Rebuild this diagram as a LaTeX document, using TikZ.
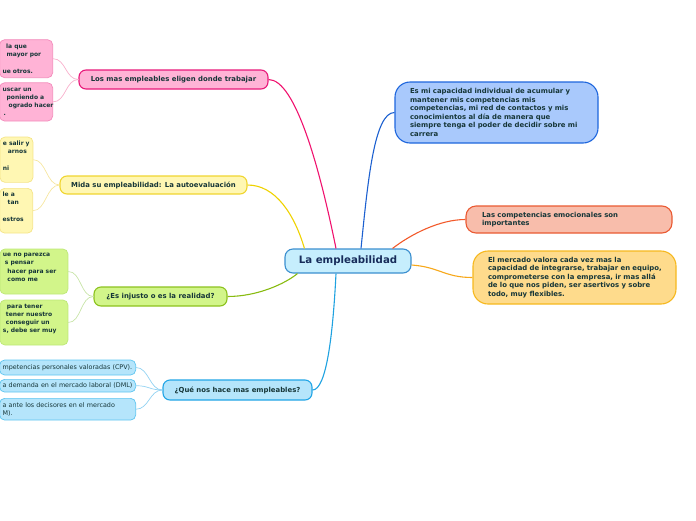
\documentclass[tikz,border=0pt]{standalone}
\usepackage{fontspec}
\setmainfont{DejaVu Sans}
\usetikzlibrary{calc}
\definecolor{txt}{HTML}{163638}
\definecolor{ctxt}{HTML}{172C5A}
\definecolor{pinkfill}{HTML}{FFB3D6}
\definecolor{pinkdraw}{HTML}{E8197A}
\definecolor{pinkline}{HTML}{F0126E}
\definecolor{pinkcdraw}{HTML}{F38CBC}
\definecolor{pinkcline}{HTML}{F8B0CC}
\definecolor{yelfill}{HTML}{FFF7B3}
\definecolor{yeldraw}{HTML}{F0D530}
\definecolor{yelline}{HTML}{EFD200}
\definecolor{yelcdraw}{HTML}{F5E488}
\definecolor{yelcline}{HTML}{F6E6A0}
\definecolor{grnfill}{HTML}{D2F58A}
\definecolor{grndraw}{HTML}{8CC21E}
\definecolor{grnline}{HTML}{88BB10}
\definecolor{grncdraw}{HTML}{BDE878}
\definecolor{grncline}{HTML}{C8E4A8}
\definecolor{cyafill}{HTML}{B5E5FB}
\definecolor{cyadraw}{HTML}{22A6E6}
\definecolor{cyaline}{HTML}{1FA2E0}
\definecolor{cyacdraw}{HTML}{5EC5F0}
\definecolor{cyacline}{HTML}{92D2F2}
\definecolor{cenfill}{HTML}{C6EEFD}
\definecolor{cendraw}{HTML}{3B8FCF}
\definecolor{bluefill}{HTML}{A9C9FC}
\definecolor{bluedraw}{HTML}{1E66DD}
\definecolor{blueline}{HTML}{1C60D0}
\definecolor{salfill}{HTML}{F8BDAB}
\definecolor{saldraw}{HTML}{EA5A33}
\definecolor{salline}{HTML}{F2592A}
\definecolor{orafill}{HTML}{FEDB8C}
\definecolor{oradraw}{HTML}{F6B81E}
\definecolor{oraline}{HTML}{F7A81A}
\newcommand\mytitlefont{\bfseries\fontsize{6.9}{8.6}\selectfont}
\newcommand\mychildfont{\bfseries\fontsize{6}{8.2}\selectfont}
\newcommand\myplainfont{\fontsize{6.4}{8.3}\selectfont}
\tikzset{
  topic/.style={draw, line width=1.1pt, rounded corners=7pt, inner sep=0pt,
    text=txt, font=\mytitlefont, align=center},
  bigbox/.style={draw, line width=1.1pt, inner xsep=15pt, inner ysep=0pt,
    text=txt, font=\mytitlefont, align=left},
  child/.style={draw, line width=0.7pt, rounded corners=5pt, inner xsep=3pt,
    inner ysep=0pt, anchor=east, text=txt, font=\mychildfont, align=left},
  conn/.style={line width=1.1pt},
  cconn/.style={line width=0.7pt},
}
\begin{document}
\begin{tikzpicture}[x=1pt,y=-1pt]
\useasboundingbox (0,0) rectangle (696,520);
\clip (0,0) rectangle (696,520);

% central
\node[topic, fill=cenfill, draw=cendraw, rounded corners=8pt, text=ctxt,
  font=\bfseries\fontsize{10.2}{12}\selectfont,
  minimum width=126pt, minimum height=24pt] (c) at (348,261) {La empleabilidad};

% right
\node[bigbox, fill=bluefill, draw=bluedraw, rounded corners=15pt,
  text width=173pt, minimum height=61pt] (r1) at (496.5,112.5)
  {\mbox{Es mi capacidad individual de acumular y}\\\mbox{mantener mis competencias mis}\\\mbox{competencias, mi red de contactos y mis}\\\mbox{conocimientos al día de manera que}\\\mbox{siempre tenga el poder de decidir sobre mi}\\\mbox{carrera}};
\node[bigbox, fill=salfill, draw=saldraw, rounded corners=10pt, inner xsep=16pt,
  text width=174pt, minimum height=27pt] (r2) at (569,219.5)
  {\mbox{Las competencias emocionales son}\\\mbox{importantes}};
\node[bigbox, fill=orafill, draw=oradraw, rounded corners=15pt,
  text width=173pt, minimum height=53pt] (r3) at (574.5,277.5)
  {\mbox{El mercado valora cada vez mas la}\\\mbox{capacidad de integrarse, trabajar en equipo,}\\\mbox{comprometerse con la empresa, ir mas allá}\\\mbox{de lo que nos piden, ser asertivos y sobre}\\\mbox{todo, muy flexibles.}};

% left topics
\node[topic, fill=pinkfill, draw=pinkdraw, minimum width=189pt, minimum height=19pt]
  (l1) at (173.5,79.5) {Los mas empleables eligen donde trabajar};
\node[topic, fill=yelfill, draw=yeldraw, minimum width=187pt, minimum height=18pt]
  (l2) at (153.5,185) {Mida su empleabilidad: La autoevaluación};
\node[topic, fill=grnfill, draw=grndraw, minimum width=133pt, minimum height=19pt]
  (l3) at (160.5,296.5) {¿Es injusto o es la realidad?};
\node[topic, fill=cyafill, draw=cyadraw, minimum width=149pt, minimum height=20pt]
  (l4) at (237.5,390) {¿Qué nos hace mas empleables?};

% children pink
\node[child, fill=pinkfill, draw=pinkcdraw, text width=47pt, minimum height=38pt]
  (c1a) at (53,58.7) {\mbox{\hspace*{3.5pt}la que}\\\mbox{\hspace*{4pt}mayor por}\\\mbox{}\\\mbox{ue otros.}};
\node[child, fill=pinkfill, draw=pinkcdraw, text width=47pt, minimum height=38.3pt]
  (c1b) at (53,101.9) {\mbox{uscar un}\\\mbox{\hspace*{4pt}poniendo a}\\\mbox{\hspace*{6pt}ogrado hacer}\\\mbox{\hspace*{1pt}.}};

% children yellow
\node[child, fill=yelfill, draw=yelcdraw, text width=27pt, minimum height=45.3pt]
  (c2a) at (33.3,159.7) {\mbox{e salir y}\\\mbox{\hspace*{5pt}arnos}\\\mbox{}\\\mbox{ni}\\\mbox{}};
\node[child, fill=yelfill, draw=yelcdraw, text width=27pt, minimum height=44.7pt]
  (c2b) at (33,210.7) {\mbox{le a}\\\mbox{\hspace*{5pt}tan}\\\mbox{}\\\mbox{estros}\\\mbox{}};

% children green
\node[child, fill=grnfill, draw=grncdraw, text width=62pt, minimum height=45pt]
  (c3a) at (68.3,271.5) {\mbox{ue no parezca}\\\mbox{\hspace*{2pt}s pensar}\\\mbox{\hspace*{4.5pt}hacer para ser}\\\mbox{\hspace*{4.5pt}como me}\\\mbox{}};
\node[child, fill=grnfill, draw=grncdraw, text width=62pt, minimum height=45pt]
  (c3b) at (68.3,322.5) {\mbox{\hspace*{4pt}para tener}\\\mbox{\hspace*{3pt}tener nuestro}\\\mbox{\hspace*{3pt}conseguir un}\\\mbox{s, debe ser muy}\\\mbox{}};

% children cyan
\node[child, fill=cyafill, draw=cyacdraw, font=\myplainfont, text width=130pt, minimum height=15pt]
  (c4a) at (136,367.5) {\mbox{mpetencias personales valoradas (CPV).}};
\node[child, fill=cyafill, draw=cyacdraw, font=\myplainfont, text width=130pt, minimum height=12.7pt]
  (c4b) at (136,385.7) {\mbox{a demanda en el mercado laboral (DML)}};
\node[child, fill=cyafill, draw=cyacdraw, font=\myplainfont, text width=130pt, minimum height=21.7pt]
  (c4c) at (136,409.2) {\mbox{a ante los decisores en el mercado}\\\mbox{M).}};

% main connectors
\draw[conn, pinkline] ($(c.north)+(-12,0)$) .. controls +(-16,-79) and +(27,0) .. (l1.east);
\draw[conn, blueline] ($(c.north)+(13,0)$) .. controls +(7,-69) and +(-20,0) .. (r1.west);
\draw[conn, yelline] (l2.east) .. controls +(28,0) and +(-10,-34) .. ($(c.north west)+(20,0)$);
\draw[conn, salline] ($(c.north east)+(-19,0)$) .. controls +(18,-14) and +(-26,0) .. (r2.west);
\draw[conn, oraline] ($(c.east)+(0,4)$) .. controls +(28,2) and +(-28,0) .. (r3.west);
\draw[conn, grnline] (l3.east) .. controls +(30,0) and +(-12,10) .. ($(c.south west)+(13,0)$);
\draw[conn, cyaline] (l4.east) .. controls +(14,0) and +(-3,60) .. ($(c.south)+(-12,0)$);

% child connectors
\foreach \k in {c1a,c1b}
  \draw[cconn, pinkcline] (l1.west) .. controls +(-13,0) and +(13,0) .. (\k.east);
\foreach \k in {c2a,c2b}
  \draw[cconn, yelcline] (l2.west) .. controls +(-13,0) and +(13,0) .. (\k.east);
\foreach \k in {c3a,c3b}
  \draw[cconn, grncline] (l3.west) .. controls +(-13,0) and +(13,0) .. (\k.east);
\foreach \k in {c4a,c4b,c4c}
  \draw[cconn, cyacline] (l4.west) .. controls +(-13,0) and +(13,0) .. (\k.east);
\end{tikzpicture}
\end{document}
